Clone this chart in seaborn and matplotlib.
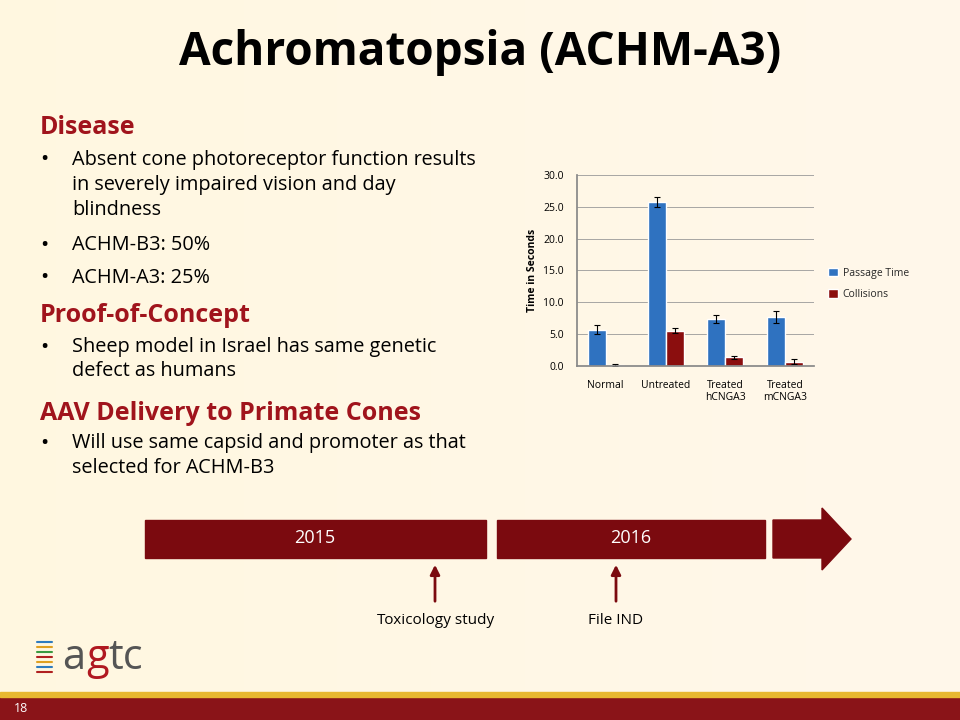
import matplotlib
matplotlib.use("Agg")
import matplotlib.pyplot as plt
import matplotlib.patches as mp
import seaborn as sb
import pandas as pd
import numpy as np

sb.set_theme(style="white")
plt.rcParams["font.family"] = "Open Sans"

groups = ["Normal", "Untreated", "Treated\nhCNGA3", "Treated\nmCNGA3"]
passage = [5.7, 25.8, 7.4, 7.7]
passage_err = [0.7, 0.8, 0.6, 0.9]
collisions = [0.1, 5.5, 1.3, 0.6]
collisions_err = [0.15, 0.4, 0.3, 0.4]
yticks = [0, 5, 10, 15, 20, 25, 30]

RED = "#7b0a0f"
fig = plt.figure(figsize=(9.6, 7.2), dpi=100)

# slide background
bg = fig.add_axes([0, 0, 1, 1])
bg.set_xlim(0, 960); bg.set_ylim(720, 0); bg.axis("off")
grad = np.linspace(0, 1, 256)[None, :]
bg.imshow(np.dstack([np.full_like(grad, 1.0), 0.97 + 0.0 * grad, 0.88 + 0.04 * grad]),
          extent=[0, 960, 720, 0], aspect="auto")
bg.add_patch(mp.Rectangle((0, 697), 960, 23, color="#8a1418"))
bg.add_patch(mp.Rectangle((0, 692), 960, 5, color="#e8b830"))
bg.text(14, 709, "18", color="white", fontsize=9, va="center")

bg.text(480, 52, "Achromatopsia (ACHM-A3)", fontsize=33, fontweight="bold",
        ha="center", va="center", color="black")

red_t = "#a0141c"
bg.text(40, 128, "Disease", fontsize=18, fontweight="bold", color=red_t, va="center")
bullets = [(160, "Absent cone photoreceptor function results"), (185, "in severely impaired vision and day"),
           (210, "blindness"), (245, "ACHM-B3: 50%"), (278, "ACHM-A3: 25%"),
           (347, "Sheep model in Israel has same genetic"), (371, "defect as humans"),
           (443, "Will use same capsid and promoter as that"), (468, "selected for ACHM-B3")]
dots = {160, 245, 278, 347, 443}
for y, t in bullets:
    if y in dots:
        bg.text(40, y, "•", fontsize=16, va="center", color="black")
    bg.text(72, y, t, fontsize=14.3, va="center", color="black")
bg.text(40, 316, "Proof-of-Concept", fontsize=18, fontweight="bold", color=red_t, va="center")
bg.text(40, 414, "AAV Delivery to Primate Cones", fontsize=18, fontweight="bold", color=red_t, va="center")

# timeline
bg.add_patch(mp.Rectangle((145, 520), 341, 38, color=RED))
bg.add_patch(mp.Rectangle((497, 520), 268, 38, color=RED))
bg.add_patch(mp.Polygon([(773, 520), (822, 520), (822, 508), (851, 539), (822, 570), (822, 558), (773, 558)], color=RED))
bg.text(315, 538, "2015", color="white", fontsize=13, ha="center", va="center")
bg.text(631, 538, "2016", color="white", fontsize=13, ha="center", va="center")
for x in (435, 616):
    bg.annotate("", xy=(x, 562), xytext=(x, 604),
                arrowprops=dict(arrowstyle="-|>", color=RED, lw=2, mutation_scale=14))
bg.text(436, 620, "Toxicology study", fontsize=11, ha="center", va="center", color="black")
bg.text(616, 620, "File IND", fontsize=11, ha="center", va="center", color="black")

# logo
cols = ["#2e7bbf", "#e0a020", "#3a9a40", "#b02020", "#e0a020", "#2e7bbf", "#b02020"]
for i, c in enumerate(cols):
    y = 642 + i * 5
    bg.plot([37, 52], [y, y], color=c, lw=1.5)
bg.text(62, 658, "a", fontsize=30, color="#555555", va="center")
bg.text(86, 658, "g", fontsize=30, color="#b01820", va="center")
bg.text(108, 658, "tc", fontsize=30, color="#555555", va="center")

# chart
df = pd.DataFrame({"group": groups * 2,
                   "value": passage + collisions,
                   "err": passage_err + collisions_err,
                   "series": ["Passage Time"] * 4 + ["Collisions"] * 4})
ax = fig.add_axes([0.601, 0.492, 0.247, 0.265])
ax.patch.set_alpha(0)
sb.barplot(data=df, x="group", y="value", hue="series", errorbar=None,
           palette=["#2f72c0", "#8b0e0e"], width=0.6, gap=0, ax=ax, saturation=1)
bars = ax.patches[:8]
for p, e in zip(bars, df["err"]):
    ax.errorbar(p.get_x() + p.get_width() / 2, p.get_height(), yerr=e, fmt="none",
                ecolor="black", elinewidth=0.8, capsize=2.5, capthick=0.8)
ax.set_ylim(0, 30)
ax.set_yticks(yticks)
ax.set_yticklabels([f"{v:.1f}" for v in yticks], fontsize=7.5, color="black")
ax.tick_params(axis="x", labelsize=7.5, pad=4, labelcolor="black")
ax.yaxis.grid(True, color="#999999", lw=0.6)
ax.set_axisbelow(True)
for s in ("top", "right"):
    ax.spines[s].set_visible(False)
ax.spines["left"].set_color("#888888")
ax.spines["bottom"].set_color("#888888")
ax.set_xlabel("")
ax.set_ylabel("Time in Seconds", fontsize=7.5, fontweight="bold", color="black")
ax.legend(loc="center left", bbox_to_anchor=(1.02, 0.43), frameon=False, fontsize=7.5,
          handlelength=0.9, handleheight=0.9, labelspacing=1.0, handletextpad=0.5)

fig.savefig("out.png", dpi=100)
